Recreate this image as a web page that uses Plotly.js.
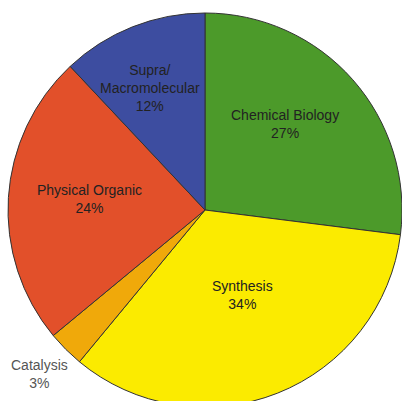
<!DOCTYPE html>
<html>
<head>
<meta charset="utf-8">
<script src="https://cdn.plot.ly/plotly-3.0.1.min.js"></script>
<style>html,body{margin:0;padding:0;overflow:hidden;background:#fff;}#chart{width:402px;height:420px;}</style>
</head>
<body>
<div id="chart"></div>
<script>
var categories = ["Chemical Biology", "Synthesis", "Catalysis", "Physical Organic", "Supra/<br>Macromolecular"];
var values = [27, 34, 3, 24, 12];
var colors = ["#4C9A2A", "#FBEB00", "#F0A90A", "#E2502A", "#3D4DA0"];
var labelPos = [[0.703, 0.718], [0.596, 0.284], [0.081, 0.084], [0.206, 0.528], [0.36, 0.81]];

var total = values.reduce(function(a, b){ return a + b; }, 0);
var annotations = categories.map(function(c, i){
  return {
    xref: 'paper', yref: 'paper',
    x: labelPos[i][0], y: labelPos[i][1],
    xanchor: 'center', yanchor: 'middle',
    text: c + '<br>' + Math.round(values[i] / total * 100) + '%',
    showarrow: false,
    font: {family: 'Liberation Sans, Arial, sans-serif', size: 14, color: i === 2 ? '#555555' : '#222222'},
    align: 'center'
  };
});

var data = [{
  type: 'pie',
  labels: categories,
  values: values,
  sort: false,
  direction: 'clockwise',
  rotation: 0,
  textinfo: 'none',
  hoverinfo: 'none',
  marker: {colors: colors, line: {color: '#333333', width: 1}}
}];

var layout = {
  width: 402, height: 420,
  margin: {l: 8, r: 0, t: 13, b: 13},
  showlegend: false,
  paper_bgcolor: '#ffffff',
  annotations: annotations
};

Plotly.newPlot('chart', data, layout, {staticPlot: true, displayModeBar: false});
</script>
</body>
</html>
